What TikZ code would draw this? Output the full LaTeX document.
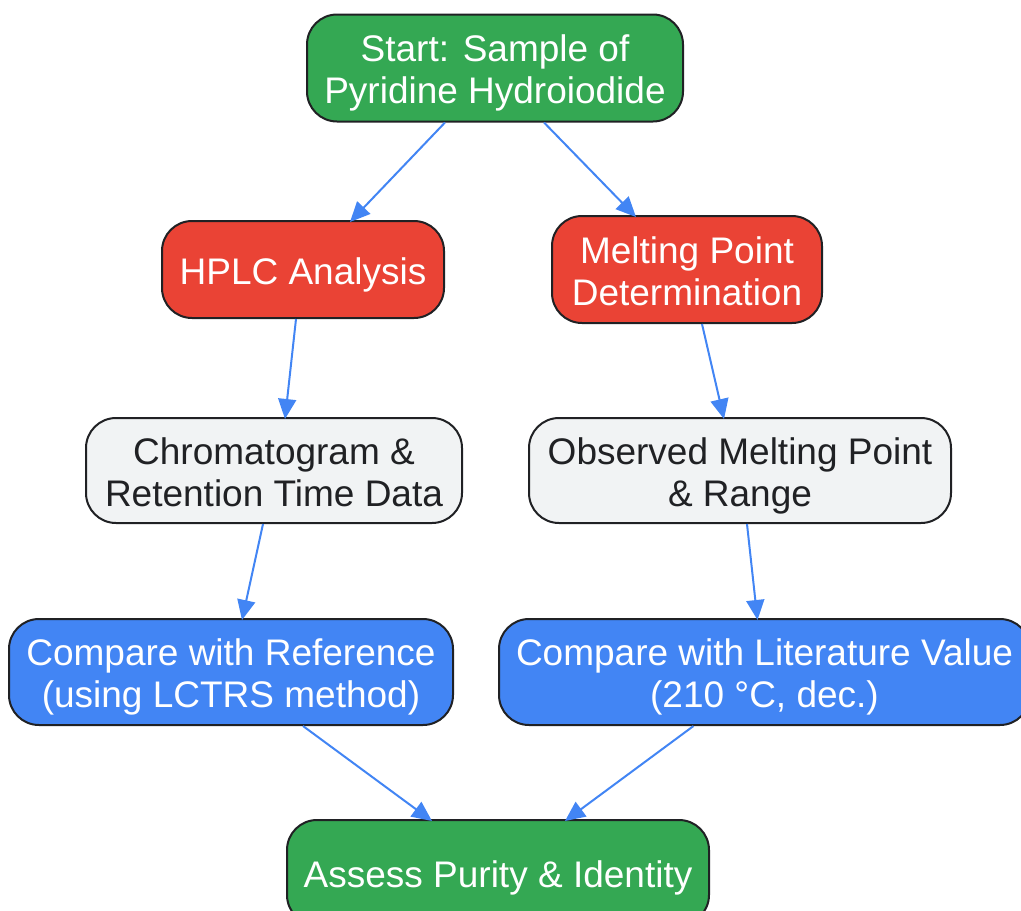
\documentclass[tikz,border=0pt]{standalone}
\usepackage{fontspec}
\setmainfont{Liberation Sans}
\usetikzlibrary{arrows.meta,calc}
\definecolor{cgreen}{HTML}{34A853}
\definecolor{cred}{HTML}{EA4335}
\definecolor{cgray}{HTML}{F1F3F4}
\definecolor{cblue}{HTML}{4285F4}
\definecolor{cborder}{HTML}{202124}
\definecolor{carrow}{HTML}{4285F4}
\newcommand\boxlbl[1]{\raisebox{-6.5pt}[\height][\depth]{\begin{tabular}{@{}c@{}}#1\end{tabular}}}
\begin{document}
\begin{tikzpicture}[x=1pt,y=-1pt,
  box/.style={draw=cborder,line width=2pt,rounded corners=30pt,inner sep=0pt,
    align=center,font=\fontsize{37}{42}\selectfont},
  greenbox/.style={box,fill=cgreen,text=white},
  redbox/.style={box,fill=cred,text=white},
  graybox/.style={box,fill=cgray,text=cborder},
  bluebox/.style={box,fill=cblue,text=white},
  conn/.style={draw=carrow,line width=2pt,-{Triangle[length=20pt,width=18pt]}}]
\useasboundingbox (0,0) rectangle (1021,911);
\node[greenbox,minimum width=376pt,minimum height=107pt] (start) at (495,68) {\boxlbl{Start: Sample of\\Pyridine Hydroiodide}};
\node[redbox,minimum width=282pt,minimum height=97pt] (hplc) at (303,269.5) {\boxlbl{HPLC Analysis}};
\node[redbox,minimum width=270pt,minimum height=107pt] (melt) at (687,269.5) {\boxlbl{Melting Point\\Determination}};
\node[graybox,minimum width=376pt,minimum height=105pt] (chrom) at (274,470.5) {\boxlbl{Chromatogram \&\\Retention Time Data}};
\node[graybox,minimum width=422pt,minimum height=105pt] (obs) at (740,470.5) {\boxlbl{Observed Melting Point\\\& Range}};
\node[bluebox,minimum width=444pt,minimum height=106pt] (cref) at (231,672) {\boxlbl{Compare with Reference\\(using LCTRS method)}};
\node[bluebox,minimum width=531pt,minimum height=106pt] (clit) at (764.5,672) {\boxlbl{Compare with Literature Value\\(210 °C, dec.)}};
\node[greenbox,minimum width=422pt,minimum height=105pt] (assess) at (498,872.5) {\boxlbl{Assess Purity \& Identity}};
\draw[conn] ([xshift=-50pt]start.south) -- ([xshift=47pt,yshift=-2pt]hplc.north);
\draw[conn] ([xshift=49pt]start.south) -- ([xshift=-51pt,yshift=-2pt]melt.north);
\draw[conn] ([xshift=-7pt]hplc.south) -- ([xshift=11pt,yshift=-2pt]chrom.north);
\draw[conn] ([xshift=15pt]melt.south) -- ([xshift=-16pt,yshift=-2pt]obs.north);
\draw[conn] ([xshift=-11pt]chrom.south) -- ([xshift=11pt,yshift=-2pt]cref.north);
\draw[conn] ([xshift=7pt]obs.south) -- ([xshift=-7pt,yshift=-2pt]clit.north);
\draw[conn] ([xshift=72pt]cref.south) -- ([xshift=-66pt,yshift=-2pt]assess.north);
\draw[conn] ([xshift=-71pt]clit.south) -- ([xshift=67pt,yshift=-2pt]assess.north);
\end{tikzpicture}
\end{document}
